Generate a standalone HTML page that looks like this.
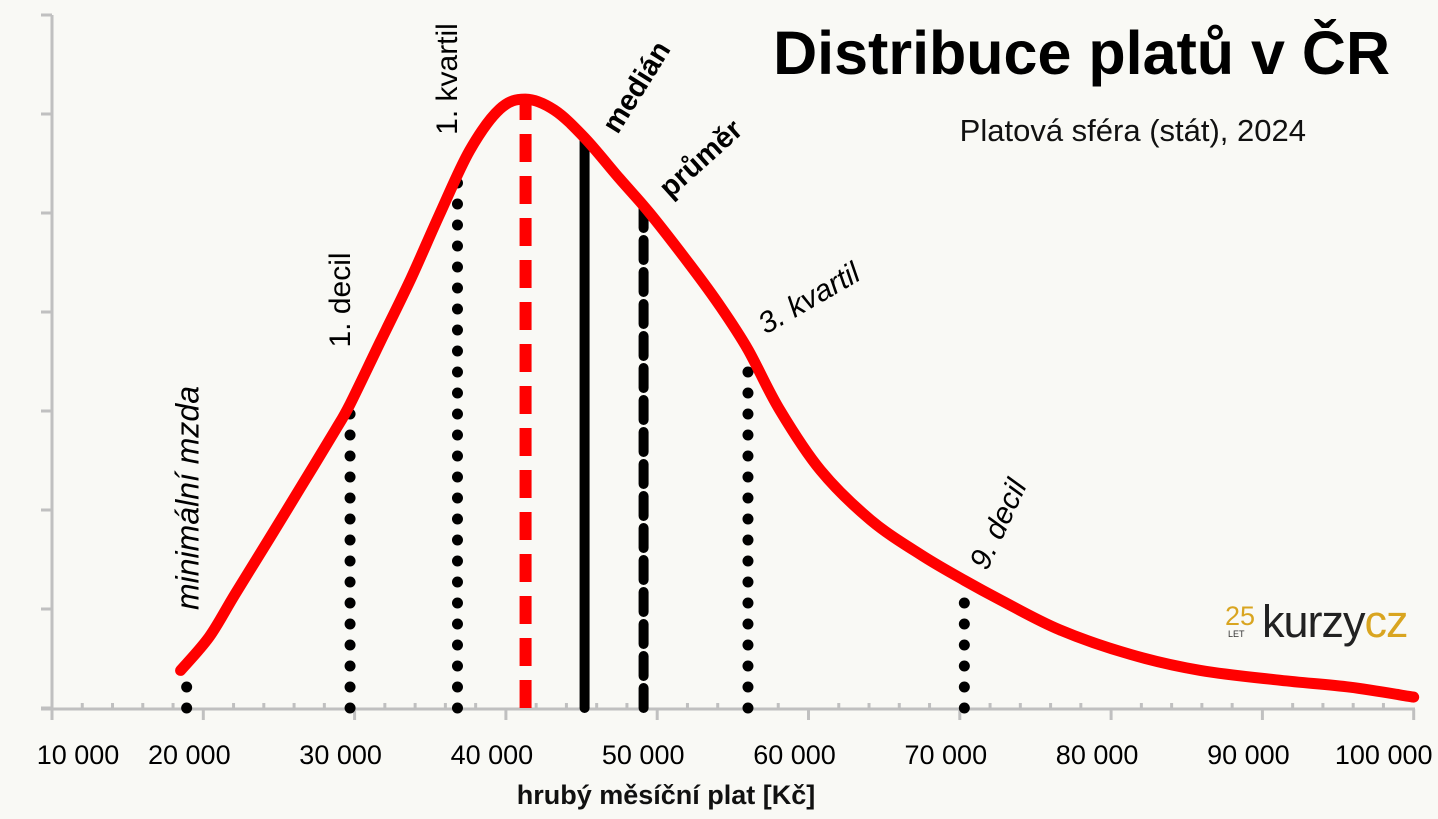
<!DOCTYPE html>
<html><head><meta charset="utf-8"><style>
html,body{margin:0;padding:0;background:#f9f9f5;}
svg{display:block;font-family:"Liberation Sans",sans-serif;}
</style></head><body>
<svg id="chart" width="1438" height="819" viewBox="0 0 1438 819">
<rect width="1438" height="819" fill="#f9f9f5"/>
<g id="axes"></g>
<g id="markers"></g>
<g id="curve"></g>
<g id="labels"></g>
<text x="1390" y="74" text-anchor="end" font-size="61" font-weight="bold" fill="#000">Distribuce platů v ČR</text>
<text x="1306" y="141" text-anchor="end" font-size="31" fill="#111">Platová sféra (stát), 2024</text>
<text x="666" y="804" text-anchor="middle" font-size="27" font-weight="bold" fill="#111">hrubý měsíční plat [Kč]</text>
<g>
<text x="1225" y="625" font-size="27" fill="#d9a520">25</text>
<text x="1228" y="637" font-size="9" fill="#333">LET</text>
<text x="1262" y="637" font-size="45" fill="#222" letter-spacing="-1">kurzy<tspan fill="#d9a520">cz</tspan></text>
</g>
</svg>
<script>
const salaries=[18500,20400,22100,24400,26400,28700,29700,31700,33700,35600,37600,39600,41300,43200,45200,47500,49500,52200,54200,56000,58100,60800,64100,67400,70300,72700,76600,81300,85900,91200,95800,100000];
const density=[0.38,0.72,1.15,1.72,2.22,2.80,3.07,3.70,4.33,4.98,5.63,6.05,6.15,6.04,5.76,5.35,5.0,4.47,4.05,3.62,3.01,2.40,1.90,1.55,1.29,1.09,0.79,0.54,0.38,0.28,0.21,0.11];
const markerNames=["minimalni-mzda","decil-1","kvartil-1","modus","median","prumer","kvartil-3","decil-9"];
const markerValues=[18900,29700,36800,41300,45200,49100,56000,70300];
const xTicks=[10000,20000,30000,40000,50000,60000,70000,80000,90000,100000];
const xTickLabels=["10 000","20 000","30 000","40 000","50 000","60 000","70 000","80 000","90 000","100 000"];
const yTicks=[0,1,2,3,4,5,6,7];

const NS="http://www.w3.org/2000/svg";
const X=v=>52+(v-10000)/10000*151.3;
const Y=v=>708-v*99;
function mk(tag,parent,attrs){const e=document.createElementNS(NS,tag);for(const k in attrs)e.setAttribute(k,attrs[k]);parent.appendChild(e);return e;}
function dens(v){for(let i=0;i<salaries.length-1;i++){if(v>=salaries[i]&&v<=salaries[i+1]){const t=(v-salaries[i])/(salaries[i+1]-salaries[i]);return density[i]+t*(density[i+1]-density[i]);}}return 0;}

const axes=document.getElementById('axes');
let el=mk('line',axes,{x1:52,y1:15,x2:52,y2:710,stroke:'#c0c0c0','stroke-width':3});


el=mk('line',axes,{x1:41,y1:709,x2:1415,y2:709,stroke:'#c0c0c0','stroke-width':3});


yTicks.forEach(t=>{const e=mk('line',axes,{x1:41,y1:Y(t),x2:52,y2:Y(t),stroke:'#c0c0c0','stroke-width':3});

});
for(let v=10000;v<=100000;v+=2000){const e=mk('line',axes,{x1:X(v),y1:v%10000===0?720:703,x2:X(v),y2:709,stroke:'#c0c0c0','stroke-width':3});

}
xTicks.forEach((t,i)=>{const e=mk('text',axes,{x:i===0?X(t)+26:(i===9?X(t)-30:X(t)-14),y:764,'text-anchor':'middle','font-size':27,fill:'#000'});e.textContent=xTickLabels[i];

});

const markers=document.getElementById('markers');
const styles={dotted:{stroke:'#000','stroke-width':11,'stroke-linecap':'round','stroke-dasharray':'0 21'},
red:{stroke:'#ff0000','stroke-width':12,'stroke-dasharray':'28 14'},
solid:{stroke:'#000','stroke-width':10,'stroke-linecap':'round'},
dashed:{stroke:'#000','stroke-width':10,'stroke-linecap':'round','stroke-dasharray':'20 12'}};
const kinds=["dotted","dotted","dotted","red","solid","dashed","dotted","dotted"];
markerValues.forEach((v,i)=>{const top=Y(dens(v))+(kinds[i]==='dotted'?4:0);
const a=Object.assign({x1:X(v),x2:X(v),y1:708,y2:top},styles[kinds[i]]);
const e=mk('line',markers,a);

});

const curve=document.getElementById('curve');
const P=salaries.map((s,i)=>[X(s),Y(density[i])]);
let d='M'+P[0][0].toFixed(1)+' '+P[0][1].toFixed(1);
for(let i=0;i<P.length-1;i++){const p0=P[Math.max(0,i-1)],p1=P[i],p2=P[i+1],p3=P[Math.min(P.length-1,i+2)];
const c1=[p1[0]+(p2[0]-p0[0])/6,p1[1]+(p2[1]-p0[1])/6],c2=[p2[0]-(p3[0]-p1[0])/6,p2[1]-(p3[1]-p1[1])/6];
d+=` C${c1[0].toFixed(1)} ${c1[1].toFixed(1)} ${c2[0].toFixed(1)} ${c2[1].toFixed(1)} ${p2[0].toFixed(1)} ${p2[1].toFixed(1)}`;}
el=mk('path',curve,{d:d,fill:'none',stroke:'#ff0000','stroke-width':11,'stroke-linecap':'round','stroke-linejoin':'round'});



const labels=document.getElementById('labels');
const lab=[["minimální mzda",190,498,-90,32,'italic','normal','minimalni-mzda-label'],
["1. decil",342,300,-90,30,'normal','normal','decil-1-label'],
["1. kvartil",449,79,-90,30,'normal','normal','kvartil-1-label'],
["medián",638,88,-58,29,'normal','bold','median-label'],
["průměr",702,160,-42,29,'normal','bold','prumer-label'],
["3. kvartil",810,300,-30,30,'italic','normal','kvartil-3-label'],
["9. decil",1000,525,-65,30,'italic','normal','decil-9-label']];
lab.forEach(l=>{const e=mk('text',labels,{x:0,y:0,transform:`translate(${l[1]},${l[2]}) rotate(${l[3]})`,'text-anchor':'middle','dominant-baseline':'middle','font-size':l[4],'font-style':l[5],'font-weight':l[6],fill:'#000'});e.textContent=l[0];

});
</script>
</body></html>
